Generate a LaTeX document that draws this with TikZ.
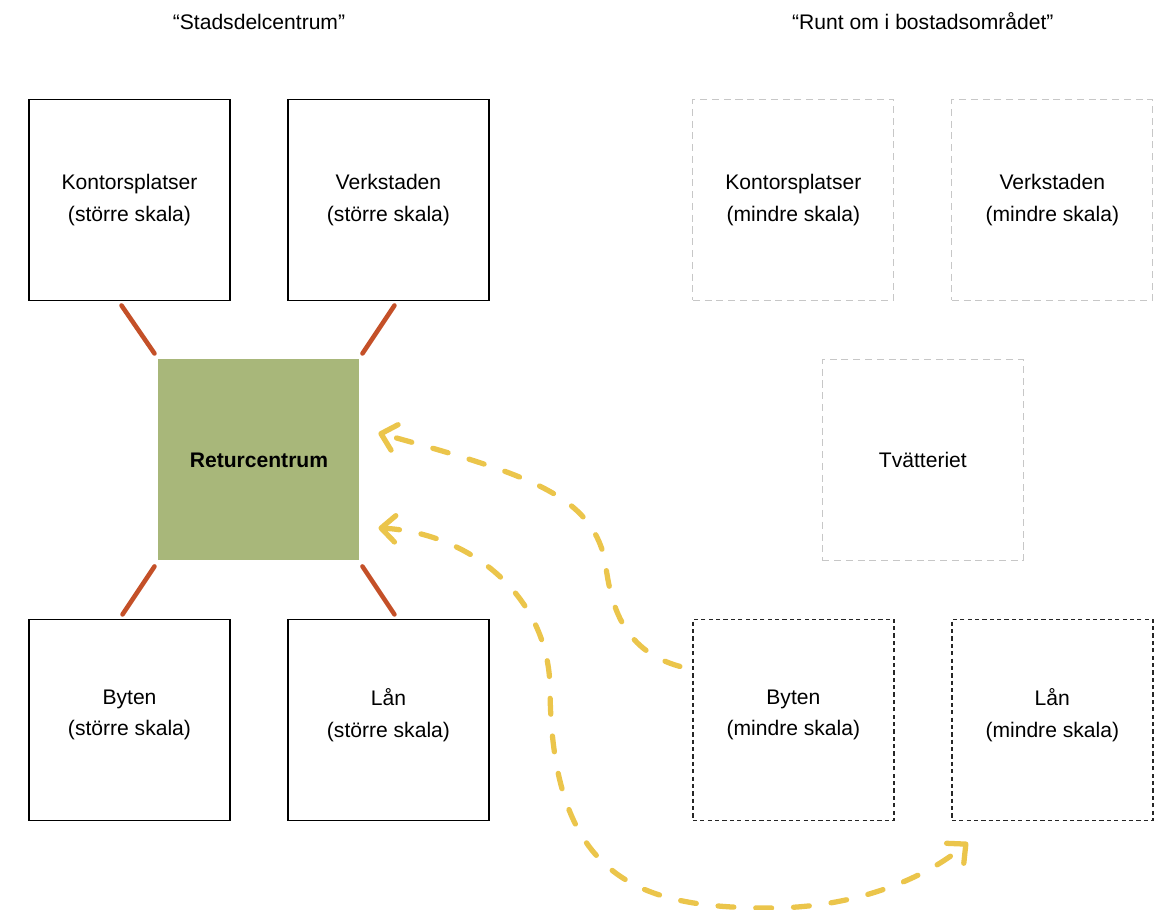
\documentclass[tikz,border=0pt]{standalone}
\usepackage{fontspec}
\setmainfont{Liberation Sans}
\usetikzlibrary{arrows.meta,positioning,calc}
\definecolor{retgreen}{RGB}{168,183,122}
\definecolor{lnkred}{RGB}{196,80,40}
\definecolor{pilgul}{RGB}{235,197,75}
\tikzset{
  blk/.style={rectangle,minimum width=4.02cm,minimum height=4.02cm,inner sep=0pt,outer sep=0pt,align=center,font=\fontsize{12}{18}\selectfont},
  storblk/.style={blk,draw=black,line width=0.8pt},
  svagblk/.style={blk,draw=black!22,line width=0.6pt,dash pattern=on 4pt off 2.7pt},
  streckblk/.style={blk,draw=black!85,line width=0.8pt,dash pattern=on 2.4pt off 1.8pt},
  nedre/.style={text depth=8pt},
  retblk/.style={blk,fill=retgreen,font=\fontsize{12}{18}\selectfont\bfseries},
  lnk/.style={draw=lnkred,line width=2.6pt,line cap=round},
  yarr/.style={draw=pilgul,line width=3pt,line cap=round,dash pattern=on 9pt off 12.5pt,-{Straight Barb[length=8pt,width=15pt,round]}},
  yarrb/.style={yarr,{Straight Barb[length=8pt,width=15pt,round]}-{Straight Barb[length=8pt,width=15pt,round]}},
  rubrik/.style={font=\fontsize{12}{15}\selectfont}
}
\begin{document}
\begin{tikzpicture}[x=0.02cm,y=0.02cm]
  \useasboundingbox (0,0) rectangle (1161,-910);
  % stadsdelcentrum
  \node[storblk] (kontorS) at (129.5,-200) {Kontorsplatser\\(större skala)};
  \node[storblk, right=1.16cm of kontorS] (verkS) {Verkstaden\\(större skala)};
  \node[storblk, nedre, below=6.38cm of kontorS] (bytenS) {Byten\\(större skala)};
  \node[storblk, nedre, right=1.16cm of bytenS] (lanS) {Lån\\(större skala)};
  \node[retblk] (retur) at ($(kontorS)!0.5!(lanS)$) {Returcentrum};
  % bostadsomraadet
  \node[svagblk, right=4.08cm of verkS] (kontorM) {Kontorsplatser\\(mindre skala)};
  \node[svagblk, right=1.16cm of kontorM] (verkM) {Verkstaden\\(mindre skala)};
  \node[streckblk, nedre, below=6.38cm of kontorM] (bytenM) {Byten\\(mindre skala)};
  \node[streckblk, nedre, right=1.16cm of bytenM] (lanM) {Lån\\(mindre skala)};
  \node[svagblk] (tvatt) at ($(kontorM)!0.5!(lanM)$) {Tvätteriet};
  % rubriker
  \node[rubrik] (rubS) at ($(kontorS.north)!0.5!(verkS.north)+(0,78)$) {“Stadsdelcentrum”};
  \node[rubrik] (rubM) at ($(kontorM.north)!0.5!(verkM.north)+(0,78)$) {“Runt om i bostadsområdet”};

  \draw[lnk] ([shift={(-8,-5)}]kontorS.south) -- ([shift={(-4,6)}]retur.north west);
  \draw[lnk] ([shift={(6,-5)}]verkS.south) -- ([shift={(3,6)}]retur.north east);
  \draw[lnk] ([shift={(-4,-6)}]retur.south west) -- ([shift={(-7,5)}]bytenS.north);
  \draw[lnk] ([shift={(3,-6)}]retur.south east) -- ([shift={(6,5)}]lanS.north);

  \draw[yarr] ([shift={(-13,-47)}]bytenM.north west) .. controls (620,-650) and (610,-600) .. (605,-560)
    .. controls (590,-495) and (530,-475) .. ([shift={(19,27)}]retur.east);
  \draw[yarrb] ([shift={(19,-68)}]retur.east) to[out=-3,in=90] (550,-690)
    .. controls (552,-880) and (640,-908) .. (770,-908)
    .. controls (860,-908) and (930,-875) .. ([shift={(16,-22)}]lanM.south west);
\end{tikzpicture}
\end{document}
